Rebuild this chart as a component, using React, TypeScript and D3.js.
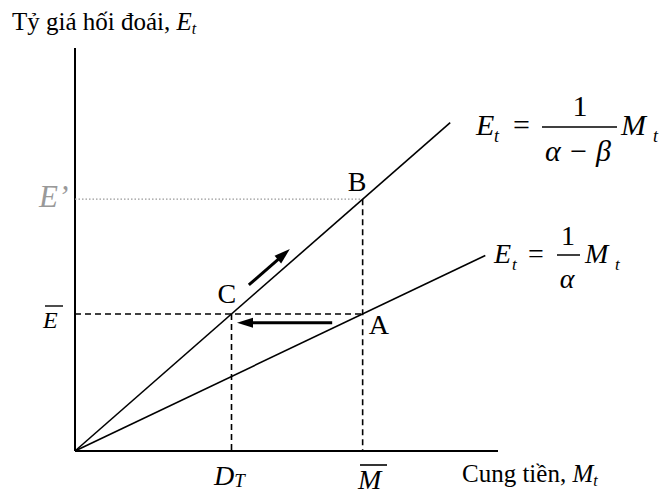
import React from "react";
import * as d3 from "d3";

// Chart values (data units)
const axisMax = [100, 100];
const mBar = 68; // M̄
const dT = 37; // D_T
const eBar = 34; // Ē
const ePrime = 62.5; // E'
const steepLine: [number, number][] = [[0, 0], [88.7, 81.5]];
const shallowLine: [number, number][] = [[0, 0], [97, 48.5]];
const leftArrow: [number, number][] = [[60.8, 31.8], [38.3, 31.8]];
const diagArrow: [number, number][] = [[41.1, 41.2], [50.8, 50.1]];
const pointLabels = [
  { name: "A", at: [mBar, eBar], dx: 6, dy: 20 },
  { name: "B", at: [mBar, ePrime], dx: -15, dy: -8 },
  { name: "C", at: [dT, eBar], dx: -14, dy: -11 },
];

const W = 659;
const H = 490;
const F = "Liberation Serif";

export default function App() {
  const x = d3.scaleLinear().domain([0, axisMax[0]]).range([75, 498]);
  const y = d3.scaleLinear().domain([0, axisMax[1]]).range([451, 48]);
  const line = d3
    .line<[number, number]>()
    .x((d) => x(d[0]))
    .y((d) => y(d[1]));

  const arrowHead = (pts: [number, number][], len = 16, half = 5) => {
    const [x0, y0] = [x(pts[0][0]), y(pts[0][1])];
    const [x1, y1] = [x(pts[1][0]), y(pts[1][1])];
    const ang = Math.atan2(y1 - y0, x1 - x0);
    const bx = x1 - len * Math.cos(ang);
    const by = y1 - len * Math.sin(ang);
    const px = -Math.sin(ang) * half;
    const py = Math.cos(ang) * half;
    return {
      shaft: [x0, y0, bx + 2 * Math.cos(ang), by + 2 * Math.sin(ang)],
      head: `M${x1},${y1} L${bx + px},${by + py} L${bx - px},${by - py} Z`,
    };
  };
  const la = arrowHead(leftArrow);
  const da = arrowHead(diagArrow);

  return (
    <svg width={W} height={H} style={{ position: "fixed", left: 0, top: 0, background: "#fff" }}>
      {/* Axes */}
      <line x1={x(0)} y1={y(0)} x2={x(0)} y2={y(axisMax[1])} stroke="#000" strokeWidth={2} />
      <line x1={x(0)} y1={y(0)} x2={x(axisMax[0])} y2={y(0)} stroke="#000" strokeWidth={2} />

      {/* Guides */}
      <line x1={x(0)} y1={y(ePrime)} x2={x(mBar)} y2={y(ePrime)} stroke="#999" strokeWidth={1.2} strokeDasharray="1.5,2" />
      <line x1={x(0)} y1={y(eBar)} x2={x(mBar)} y2={y(eBar)} stroke="#000" strokeWidth={1.6} strokeDasharray="6,4" />
      <line x1={x(dT)} y1={y(eBar)} x2={x(dT)} y2={y(0)} stroke="#000" strokeWidth={1.6} strokeDasharray="6,4" />
      <line x1={x(mBar)} y1={y(ePrime)} x2={x(mBar)} y2={y(0)} stroke="#000" strokeWidth={1.6} strokeDasharray="6,4" />

      {/* Lines */}
      <path d={line(steepLine) || ""} fill="none" stroke="#000" strokeWidth={1.6} />
      <path d={line(shallowLine) || ""} fill="none" stroke="#000" strokeWidth={1.6} />

      {/* Arrows */}
      <line x1={la.shaft[0]} y1={la.shaft[1]} x2={la.shaft[2]} y2={la.shaft[3]} stroke="#000" strokeWidth={3} />
      <path d={la.head} fill="#000" />
      <line x1={da.shaft[0]} y1={da.shaft[1]} x2={da.shaft[2]} y2={da.shaft[3]} stroke="#000" strokeWidth={3} />
      <path d={da.head} fill="#000" />

      {/* Overlines and fraction bars */}
      <line x1={45} y1={306} x2={63} y2={306} stroke="#000" strokeWidth={1.4} />
      <line x1={360} y1={465} x2={387} y2={465} stroke="#000" strokeWidth={1.6} />
      <line x1={542} y1={127} x2={617} y2={127} stroke="#000" strokeWidth={1.5} />
      <line x1={557} y1={255} x2={580} y2={255} stroke="#000" strokeWidth={1.5} />

      {/* Point labels */}
      {pointLabels.map((p) => (
        <text key={p.name} fontFamily={F} x={x(p.at[0]) + p.dx} y={y(p.at[1]) + p.dy} fontSize={28}>
          {p.name}
        </text>
      ))}

      {/* Axis titles */}
      <text fontFamily={F} x={12} y={30} fontSize={25}>
        Tỷ giá hối đoái, <tspan fontStyle="italic">E</tspan>
        <tspan fontStyle="italic" fontSize={16} dy={4}>t</tspan>
      </text>
      <text fontFamily={F} x={462} y={482} fontSize={25}>
        Cung tiền, <tspan fontStyle="italic">M</tspan>
        <tspan fontStyle="italic" fontSize={16} dy={4}>t</tspan>
      </text>

      {/* Y tick labels */}
      <text fontFamily={F} x={39} y={207} fontSize={31} fontStyle="italic" fill="#999">E’</text>
      <text fontFamily={F} x={43} y={328} fontSize={24} fontStyle="italic">E</text>

      {/* X tick labels */}
      <text fontFamily={F} x={214} y={485} fontSize={28} fontStyle="italic">
        D<tspan fontSize={19} dy={2}>T</tspan>
      </text>
      <text fontFamily={F} x={358} y={489} fontSize={28} fontStyle="italic">M</text>

      {/* Upper equation */}
      <text fontFamily={F} x={476} y={135} fontSize={30} fontStyle="italic">E</text>
      <text fontFamily={F} x={494} y={142} fontSize={18} fontStyle="italic">t</text>
      <text fontFamily={F} x={513} y={135} fontSize={30}>=</text>
      <text fontFamily={F} x={580} y={116} fontSize={30} textAnchor="middle">1</text>
      <text fontFamily={F} x={578} y={161} fontSize={30} textAnchor="middle" fontStyle="italic">α − β</text>
      <text fontFamily={F} x={621} y={135} fontSize={30} fontStyle="italic">M</text>
      <text fontFamily={F} x={653} y={142} fontSize={18} fontStyle="italic">t</text>

      {/* Lower equation */}
      <text fontFamily={F} x={494} y={263} fontSize={28} fontStyle="italic">E</text>
      <text fontFamily={F} x={512} y={270} fontSize={17} fontStyle="italic">t</text>
      <text fontFamily={F} x={528} y={263} fontSize={28}>=</text>
      <text fontFamily={F} x={568} y={245} fontSize={28} textAnchor="middle">1</text>
      <text fontFamily={F} x={567} y={288} fontSize={28} textAnchor="middle" fontStyle="italic">α</text>
      <text fontFamily={F} x={585} y={263} fontSize={28} fontStyle="italic">M</text>
      <text fontFamily={F} x={615} y={270} fontSize={17} fontStyle="italic">t</text>
    </svg>
  );
}
